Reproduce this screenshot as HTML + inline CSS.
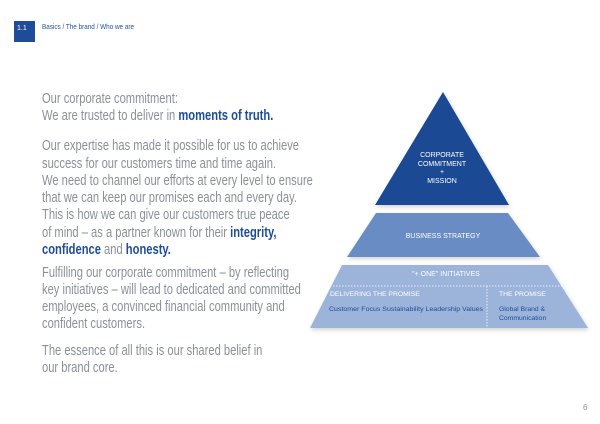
<!DOCTYPE html>
<html><head><style>html,body{margin:0;padding:0;background:#fff}svg{display:block}</style></head><body>
<svg width="600" height="424" viewBox="0 0 600 424" xmlns="http://www.w3.org/2000/svg" font-family="Liberation Sans, sans-serif">
<defs><filter id="sh" x="-10%" y="-10%" width="120%" height="130%"><feDropShadow dx="1" dy="2" stdDeviation="2" flood-color="#000" flood-opacity="0.18"/></filter></defs>
<rect x="14" y="21" width="21" height="21" fill="#1e4c9a"/>
<text x="17" y="30" font-size="7" fill="#fff">1.1</text>
<text x="42" y="29" font-size="7" fill="#2a52a0" textLength="92" lengthAdjust="spacingAndGlyphs">Basics / The brand / Who we are</text>
<g font-size="15" fill="#8a8f99" transform="translate(42,0) scale(0.745,1)">
<text x="0" y="103">Our corporate commitment:</text>
<text x="0" y="120">We are trusted to deliver in <tspan fill="#1e4c9a" font-weight="bold">moments of truth.</tspan></text>
<text x="0" y="150">Our expertise has made it possible for us to achieve</text>
<text x="0" y="168">success for our customers time and time again.</text>
<text x="0" y="185">We need to channel our efforts at every level to ensure</text>
<text x="0" y="202">that we can keep our promises each and every day.</text>
<text x="0" y="219">This is how we can give our customers true peace</text>
<text x="0" y="237">of mind – as a partner known for their <tspan fill="#1e4c9a" font-weight="bold">integrity,</tspan></text>
<text x="0" y="254"><tspan fill="#1e4c9a" font-weight="bold">confidence</tspan> and <tspan fill="#1e4c9a" font-weight="bold">honesty.</tspan></text>
<text x="0" y="277">Fulfilling our corporate commitment – by reflecting</text>
<text x="0" y="294">key initiatives – will lead to dedicated and committed</text>
<text x="0" y="311">employees, a convinced financial community and</text>
<text x="0" y="328">confident customers.</text>
<text x="0" y="355">The essence of all this is our shared belief in</text>
<text x="0" y="372">our brand core.</text>
</g>
<polygon points="443,92 509,205 375,205" fill="#1b4894" filter="url(#sh)"/>
<polygon points="376,213 508,213 540,257 347,257" fill="#6a8cc5" filter="url(#sh)"/>
<polygon points="342,265 548,265 588,328 310,328" fill="#9cb3da" filter="url(#sh)"/>
<line x1="333" y1="286" x2="562" y2="286" stroke="#fff" stroke-width="0.8" stroke-dasharray="1.5,1.5"/>
<line x1="487" y1="286" x2="487" y2="328" stroke="#fff" stroke-width="0.8" stroke-dasharray="1.5,1.5"/>
<g font-size="7" fill="#fff" text-anchor="middle">
<text x="442" y="157">CORPORATE</text>
<text x="442" y="166">COMMITMENT</text>
<text x="442" y="174">+</text>
<text x="442" y="183">MISSION</text>
<text x="443" y="238">BUSINESS STRATEGY</text>
<text x="446" y="276">"+ ONE" INITIATIVES</text>
</g>
<g font-size="6.8" fill="#fff">
<text x="330" y="296">DELIVERING THE PROMISE</text>
<text x="499" y="296">THE PROMISE</text>
</g>
<g font-size="6.8" fill="#1e4c9a">
<text x="329" y="311" textLength="154" lengthAdjust="spacingAndGlyphs">Customer Focus  Sustainability  Leadership Values</text>
<text x="499" y="311">Global Brand &amp;</text>
<text x="499" y="320">Communication</text>
</g>
<text x="583" y="410" font-size="8" fill="#8a8f99">6</text>
</svg>
</body></html>
